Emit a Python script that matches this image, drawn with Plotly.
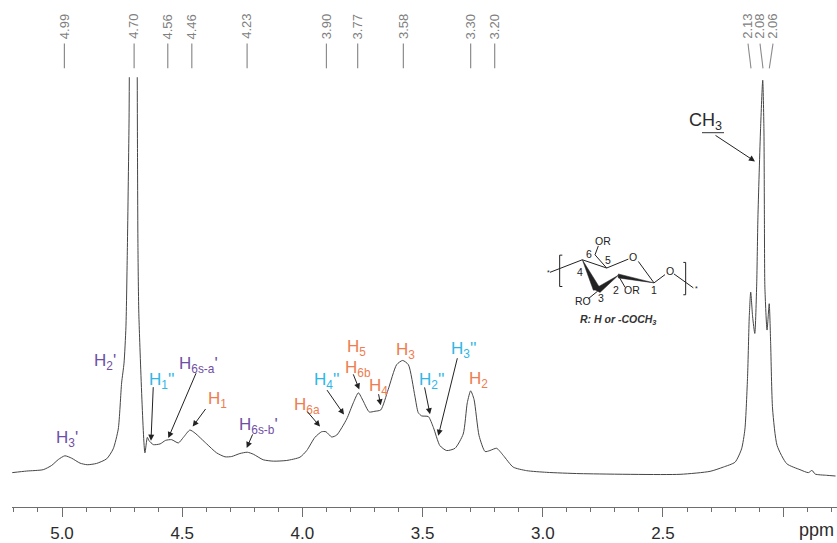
import plotly.graph_objects as go

# Spectrum (None = trace clipped at the top of the solvent peak)
ppm = [5.207,5.147,5.078,5.043,5.015,4.988,4.960,4.925,4.895,4.856,4.814,4.787,4.766,4.752,4.742,4.734,4.728,4.721,4.720,
       None,
       4.687,4.686,4.684,4.680,4.655,4.645,4.638,4.620,4.592,4.569,4.544,4.516,4.495,4.468,4.447,4.398,4.357,4.322,4.294,
       4.260,4.229,4.204,4.163,4.121,4.065,4.010,3.982,3.948,3.920,3.902,3.878,3.857,3.816,3.788,3.767,3.747,3.722,3.698,
       3.674,3.643,3.608,3.583,3.559,3.532,3.518,3.504,3.476,3.455,3.428,3.400,3.365,3.331,3.314,3.300,3.286,3.265,3.240,
       3.220,3.192,3.164,3.123,3.067,2.984,2.845,2.429,2.304,2.249,2.200,2.173,2.159,2.148,2.141,2.135,2.127,2.118,2.110,
       2.105,2.094,2.085,2.080,2.078,2.076,2.067,2.058,2.052,2.044,2.025,1.985,1.930,1.895,1.880,1.867,1.819,1.782]
intensity = [34.7,36.3,37.7,42,48,51.7,49.3,44.3,42.7,44,48.7,58.7,78.7,125.3,145.3,182,262,392,434,
             None,
             434,362,262,192,54.7,70.3,67,63,63.7,67.3,68,64.7,70.3,77.7,74.7,63.7,54.7,50.7,51,
             54,55.3,53.3,47.7,46.3,47,50.3,57,70.3,76,76,70.7,72.7,88.7,105.3,115.3,107,96,96.7,
             98,118.7,143.7,148,143.7,112,95.3,92,91.3,80.3,62,57,59.3,73.7,105.3,117.3,108.7,72,56,
             57,59.3,52,40.3,36.7,35,33.7,33,36,40.3,45.3,58.7,78.7,132,192,217,192,175.3,225.3,
             292,382,431,382,292,222,178.7,205.3,165.3,99,62,43.7,37.7,34.7,37,33.3,32,31.3]

tick_values = [5.0, 4.5, 4.0, 3.5, 3.0, 2.5, 2.0]
tick_labels = ["5.0", "4.5", "4.0", "3.5", "3.0", "2.5", ""]

peak_values = [4.99, 4.70, 4.56, 4.46, 4.23, 3.90, 3.77, 3.58, 3.30, 3.20]
peak_labels = ["4.99", "4.70", "4.56", "4.46", "4.23", "3.90", "3.77", "3.58", "3.30", "3.20"]
methyl_labels = ["2.13", "2.08", "2.06"]

PURPLE, ORANGE, CYAN = "#6f4fa5", "#ee7d50", "#2fb6e6"
W, H, LEFT, AXIS_Y = 837, 543, 12, 512
FONT = "Liberation Sans, Arial, sans-serif"


def fx(px):
    return (px - LEFT) / (W - LEFT)


def fy(py):
    return (AXIS_Y - py) / AXIS_Y


# (html text, colour, centre x, centre y)
assignments = [
    ("H<sub>3</sub>'", PURPLE, 67, 443), ("H<sub>2</sub>'", PURPLE, 105, 366),
    ("H<sub>1</sub>''", CYAN, 161, 385), ("H<sub>6s-a</sub>'", PURPLE, 198, 369),
    ("H<sub>1</sub>", ORANGE, 217, 404), ("H<sub>6s-b</sub>'", PURPLE, 258, 430),
    ("H<sub>6a</sub>", ORANGE, 307, 410), ("H<sub>4</sub>''", CYAN, 326, 385),
    ("H<sub>5</sub>", ORANGE, 356, 351), ("H<sub>6b</sub>", ORANGE, 358, 373),
    ("H<sub>4</sub>", ORANGE, 378, 391), ("H<sub>3</sub>", ORANGE, 405, 354),
    ("H<sub>2</sub>''", CYAN, 431, 385), ("H<sub>3</sub>''", CYAN, 463, 353),
    ("H<sub>2</sub>", ORANGE, 478, 384),
]
# tail x, tail y, head x, head y
pointers = [
    (153.3, 390, 151, 445), (196.7, 376, 168.3, 442.3), (206.7, 411.7, 192.7, 430.7),
    (253.3, 437.3, 246.7, 452.3), (306, 414.3, 320, 430.7), (326, 392.7, 344, 418.7),
    (352.7, 376.7, 359.3, 393.3), (378.3, 396.7, 380.7, 409.3), (424.3, 390, 430, 418.3),
    (457.7, 361, 438.3, 440), (714, 136, 755, 163),
]

fig = go.Figure(go.Scatter(x=ppm, y=intensity, mode="lines", connectgaps=False,
                           line=dict(color="#454545", width=1, shape="spline", smoothing=0.6),
                           hoverinfo="skip", showlegend=False))

shapes, annotations = [], []


def text(s, px, py, size, color="#333333", angle=0):
    annotations.append(dict(text=s, x=fx(px), y=fy(py), xref="paper", yref="paper", showarrow=False,
                            xanchor="center", yanchor="middle", textangle=angle,
                            font=dict(family=FONT, size=size, color=color)))


def seg(points, color="#333333", width=1.0, fill=None):
    d = "M" + " L".join(f"{fx(a)},{fy(b)}" for a, b in points)
    if fill:
        d += " Z"
    shapes.append(dict(type="path", path=d, xref="paper", yref="paper",
                       line=dict(color=color, width=width), fillcolor=fill))


for s, c, px, py in assignments:
    text(s, px, py, 17, c)
for x0, y0, x1, y1 in pointers:
    annotations.append(dict(x=fx(x1), y=fy(y1), xref="paper", yref="paper", text="", showarrow=True,
                            ax=x0 - x1, ay=y0 - y1, axref="pixel", ayref="pixel", arrowhead=2,
                            arrowsize=1.2, arrowwidth=1, arrowcolor="#222222", standoff=0))

# Peak picking labels and connectors
for v, lab in zip(peak_values, peak_labels):
    shapes.append(dict(type="line", xref="x", yref="y", x0=v, x1=v, y0=443, y1=468,
                       line=dict(color="#8c8c8c", width=1.2)))
    annotations.append(dict(text=lab, x=v, y=485, xref="x", yref="y", showarrow=False, textangle=-90,
                            font=dict(family=FONT, size=13, color="#808080")))
for lab, px_top, px_bottom in zip(methyl_labels, [748, 760, 773], [751, 763, 769.3]):
    text(lab, px_top, 27, 13, "#808080", -90)
    seg([(px_top, 44), (px_bottom, 69)], "#8c8c8c", 1.1)

text("ppm", 816, 535, 18, "#2b2b2b")
text("CH<sub>3</sub>", 705, 123, 18, "#2b2b2b")
seg([(702, 134), (724, 134)], "#333333", 1)


# Structure sketch (polymer repeat unit)
def z(a, b):
    return (530 + a / 3, 220 + b / 3)


ink = "#222222"
seg([z(97, 113), z(89, 113), z(89, 208), z(97, 208)], ink, 1)
seg([z(460, 135), z(467, 135), z(467, 233), z(460, 233)], ink, 1)
seg([z(60, 165), z(157, 127)], ink)
seg([z(157, 127), z(230, 152)], ink)
seg([z(230, 152), z(295, 125)], ink)
seg([z(325, 132), z(372, 197)], ink)
seg([z(230, 152), z(195, 112)], ink)
seg([z(195, 112), z(205, 85)], ink)
seg([z(203, 222), z(175, 245)], ink)
seg([z(265, 175), z(285, 210)], ink)
seg([z(372, 197), z(405, 172)], ink)
seg([z(432, 170), z(490, 212)], ink)
seg([z(157, 127), z(190, 219), z(212, 216)], ink, 0.5, ink)
seg([z(192, 216), z(210, 226), z(265, 174)], ink, 0.5, ink)
seg([z(265, 170), z(265, 182), z(372, 197)], ink, 0.5, ink)
for s, a, b, size in [("OR", 220, 70, 10.5), ("O", 310, 118, 10.5), ("6", 176, 108, 10.5), ("5", 235, 127, 10.5),
                      ("4", 150, 165, 10.5), ("3", 212, 243, 10.5), ("2", 258, 220, 10.5), ("OR", 305, 220, 10.5),
                      ("RO", 160, 253, 10.5), ("1", 372, 220, 10.5), ("O", 420, 160, 10.5),
                      ("*", 55, 167, 7), ("*", 498, 215, 7)]:
    text(s, *z(a, b), size, ink)
text("<b><i>R: H or -COCH<sub>3</sub></i></b>", 618, 323, 10.5)

fig.update_layout(
    width=W, height=H, margin=dict(l=LEFT, r=0, t=0, b=H - AXIS_Y),
    paper_bgcolor="white", plot_bgcolor="white",
    shapes=shapes, annotations=annotations, showlegend=False,
    xaxis=dict(range=[5.208, 1.776], showgrid=False, zeroline=False, showline=True, linecolor="#6e6e6e",
               linewidth=1, ticks="outside", ticklen=9, tickcolor="#6e6e6e", tickwidth=1,
               tickvals=tick_values, ticktext=tick_labels, ticklabelstandoff=2,
               tickfont=dict(family=FONT, size=17, color="#2b2b2b"),
               minor=dict(dtick=0.1, tick0=0, ticks="outside", ticklen=4, tickcolor="#6e6e6e", tickwidth=1)),
    yaxis=dict(range=[0, AXIS_Y], visible=False, fixedrange=True),
)

fig.write_html("out.html", config=dict(displayModeBar=False),
               post_script="document.body.style.margin='0';document.body.style.overflow='hidden';")
